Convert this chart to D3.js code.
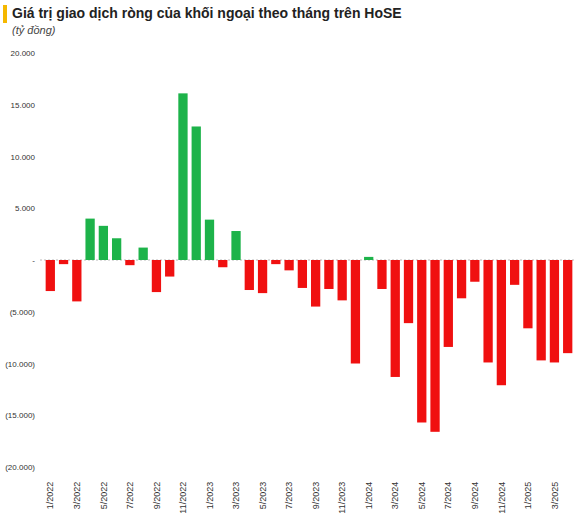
<!DOCTYPE html>
<html><head><meta charset="utf-8">
<script src="https://cdn.jsdelivr.net/npm/d3@7"></script>
<style>body{margin:0;background:#fff;font-family:Arial,"Liberation Sans",sans-serif}</style>
</head><body><svg id="c" width="583" height="522"></svg>
<script>
const months = [];
for (let y = 2022; y <= 2025; y++) for (let m = 1; m <= 12; m++) { if (y === 2025 && m > 4) break; months.push(m + "/" + y); }
const values = [-3000,-400,-4000,4000,3300,2100,-500,1200,-3100,-1600,16100,12900,
  3900,-700,2800,-2900,-3200,-400,-1000,-2700,-4500,-2800,-3900,-10000,
  300,-2800,-11300,-6100,-15700,-16600,-8400,-3700,-2100,-9900,-12100,-2400,
  -6600,-9700,-9900,-9000];
const yTicks = [20000,15000,10000,5000,0,-5000,-10000,-15000,-20000];
const svg = d3.select("#c");
svg.append("rect").attr("x",3).attr("y",5).attr("width",4).attr("height",18).attr("fill","#f5b800");
svg.append("text").attr("x",12).attr("y",18).attr("font-size",14).attr("font-weight","bold").attr("fill","#222").text("Giá trị giao dịch ròng của khối ngoại theo tháng trên HoSE");
svg.append("text").attr("x",12).attr("y",34).attr("font-size",11).attr("font-style","italic").attr("fill","#444").text("(tỷ đồng)");
const x = d3.scaleBand().domain(months).range([43,575]).paddingInner(0.3).paddingOuter(0.2);
const y = d3.scaleLinear().domain([-20000,20000]).range([467,53]);
const fmt = v => v === 0 ? "-" : (v < 0 ? "(" + d3.format(",")(-v).replace(/,/g,".") + ")" : d3.format(",")(v).replace(/,/g,"."));
const ya = svg.append("g").attr("transform","translate(38,0)").call(d3.axisLeft(y).tickValues(yTicks).tickSize(0).tickFormat(fmt));
ya.select(".domain").remove();
ya.selectAll("text").attr("font-size",8).attr("fill","#333");
svg.append("line").attr("x1",40).attr("x2",575).attr("y1",y(0)).attr("y2",y(0)).attr("stroke","#bbb").attr("stroke-dasharray","2,2");
svg.selectAll(".b").data(values).enter().append("rect")
  .attr("x",(d,i)=>x(months[i])).attr("width",x.bandwidth())
  .attr("y",d=>y(Math.max(0,d))).attr("height",d=>Math.abs(y(d)-y(0)))
  .attr("fill",d=>d>=0?"#1db34a":"#f01010");
const xa = svg.append("g").attr("transform","translate(0,477)").call(d3.axisBottom(x).tickValues(months.filter((m,i)=>i%2===0)).tickSize(0));
xa.select(".domain").remove();
xa.selectAll("text").attr("font-size",9).attr("fill","#333").attr("transform","rotate(-90)").attr("text-anchor","end").attr("dx","-0.2em").attr("dy","0.35em").attr("x",-3).attr("y",0);
</script></body></html>
